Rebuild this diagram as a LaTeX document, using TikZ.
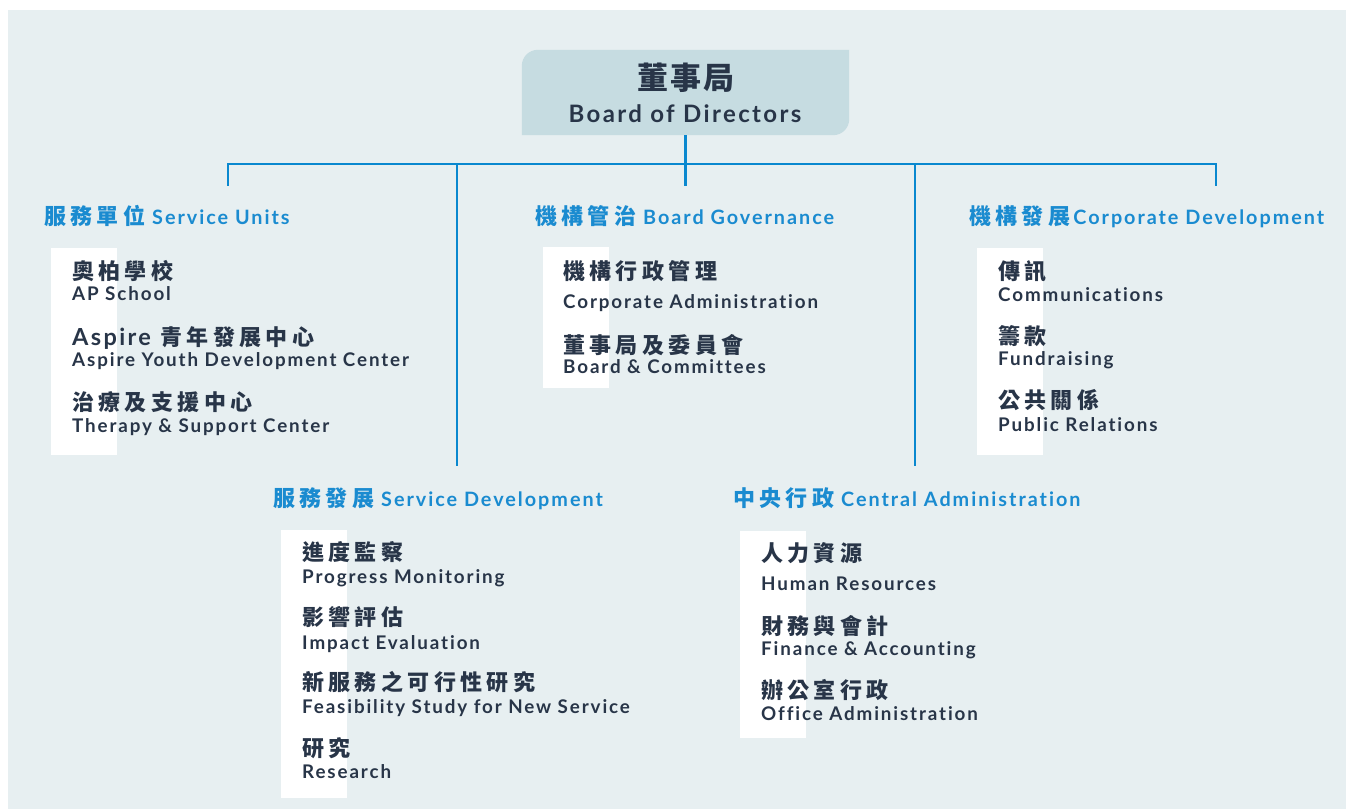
\documentclass[tikz,border=0pt]{standalone}
\usepackage{fontspec}
\setmainfont{Lato}[LetterSpace=10,Ligatures=NoCommon]
\newfontfamily\cjk{Noto Sans CJK TC}[LetterSpace=20]
\newfontfamily\cjktitle{Noto Sans CJK TC}[LetterSpace=8]
\newcommand{\hcn}[1]{{\cjk\fontsize{22}{25}\selectfont #1}}
\usetikzlibrary{positioning}
\definecolor{bgblue}{HTML}{E7EFF1}
\definecolor{boardfill}{HTML}{C6DCE1}
\definecolor{linkblue}{HTML}{0A88CF}
\definecolor{headblue}{HTML}{1A8BD0}
\definecolor{ink}{HTML}{283548}

\begin{document}
\begin{tikzpicture}[x=1pt,y=-1pt,
    link/.style={draw=linkblue,line width=2.5pt},
    strip node/.style={fill=white,inner sep=0pt,anchor=north west,minimum width=66pt},
    head node/.style={anchor=base west,inner sep=0pt,text=headblue,
      font=\fontsize{19.8}{24}\selectfont\bfseries},
    cn node/.style={anchor=base west,inner sep=0pt,text=ink,
      font=\cjk\fontsize{22}{25}\selectfont\bfseries},
    en node/.style={anchor=base west,inner sep=0pt,text=ink,
      font=\fontsize{18.8}{22}\selectfont\bfseries}]

  % page and background
  \fill[white] (0,0) rectangle (1346,809);
  \useasboundingbox (0,0) rectangle (1346,809);
  \fill[bgblue] (8,10) rectangle (1346,809);

  % board of directors
  \node[minimum width=327pt,minimum height=85pt,inner sep=0pt] (board) at (685.5,92.5) {};
  \fill[boardfill] (board.south west) [rounded corners=16pt] -- (board.north west)
    [sharp corners] -- (board.north east) [rounded corners=16pt] -- (board.south east)
    [sharp corners] -- cycle;
  \node[anchor=base,inner sep=0pt,text=ink,font=\cjktitle\fontsize{31}{34}\selectfont\bfseries]
    (board cn) at (686,89) {董事局};
  \node[anchor=base,inner sep=0pt,text=ink,font=\fontsize{24}{28}\selectfont\bfseries]
    (board en) at (685,122.5) {Board of Directors};

  % white strips
  \node[strip node,minimum height=207pt] (su strip) at (51,248) {};
  \node[strip node,minimum height=141pt] (bg strip) at (543,247) {};
  \node[strip node,minimum height=207pt] (cd strip) at (977,248) {};
  \node[strip node,minimum height=268pt] (sd strip) at (281,530) {};
  \node[strip node,minimum height=207pt] (ca strip) at (740,531) {};

  % connectors
  \coordinate (bus) at (685.5,164);
  \coordinate (su top) at (228,185.5);
  \coordinate (bg top) at (685.5,185.5);
  \coordinate (cd top) at (1216,185.5);
  \coordinate (sd end) at (457,466);
  \coordinate (ca end) at (915,466);
  \draw[link] (su top) -- (su top |- bus) -- (cd top |- bus) -- (cd top);
  \draw[link] (board.south) -- (bg top);
  \draw[link] (sd end |- bus) -- (sd end);
  \draw[link] (ca end |- bus) -- (ca end);

  % service units
  \node[head node] (su) at (44,224.5) {\hcn{服務單位} Service Units};
  \node[cn node] (su1 cn) at (72,279) {奧柏學校};
  \node[en node] (su1 en) at (72,300) {AP School};
  \node[cn node] (su2 cn) at (72,345) {{\rmfamily\fontsize{23.5}{26}\selectfont Aspire} 青年發展中心};
  \node[en node] (su2 en) at (72,366) {Aspire Youth Development Center};
  \node[cn node] (su3 cn) at (72,410) {治療及支援中心};
  \node[en node] (su3 en) at (72,432) {Therapy \& Support Center};

  % board governance
  \node[head node] (bg) at (535,224.5) {\hcn{機構管治} Board Governance};
  \node[cn node] (bg1 cn) at (563,279.5) {機構行政管理};
  \node[en node] (bg1 en) at (563,308) {Corporate Administration};
  \node[cn node] (bg2 cn) at (563,353) {董事局及委員會};
  \node[en node] (bg2 en) at (563,373) {Board \& Committees};

  % corporate development
  \node[head node] (cd) at (969,224.5) {\hcn{機構發展}\hspace{3pt}Corporate Development};
  \node[cn node] (cd1 cn) at (998,279.5) {傳訊};
  \node[en node] (cd1 en) at (998,301) {Communications};
  \node[cn node] (cd2 cn) at (998,344) {籌款};
  \node[en node] (cd2 en) at (998,365.7) {Fundraising};
  \node[cn node] (cd3 cn) at (998,408.5) {公共關係};
  \node[en node] (cd3 en) at (998,431) {Public Relations};

  % service development
  \node[head node] (sd) at (273,506) {\hcn{服務發展} Service Development};
  \node[cn node] (sd1 cn) at (302,560) {進度監察};
  \node[en node] (sd1 en) at (302,583.3) {Progress Monitoring};
  \node[cn node] (sd2 cn) at (302,625) {影響評估};
  \node[en node] (sd2 en) at (302,649) {Impact Evaluation};
  \node[cn node] (sd3 cn) at (302,690.5) {新服務之可行性研究};
  \node[en node] (sd3 en) at (302,713.3) {Feasibility Study for New Service};
  \node[cn node] (sd4 cn) at (302,756) {研究};
  \node[en node] (sd4 en) at (302,778.3) {Research};

  % central administration
  \node[head node] (ca) at (733,506) {\hcn{中央行政} Central Administration};
  \node[cn node] (ca1 cn) at (761,561) {人力資源};
  \node[en node] (ca1 en) at (761,590.7) {Human Resources};
  \node[cn node] (ca2 cn) at (761,634) {財務與會計};
  \node[en node] (ca2 en) at (761,655) {Finance \& Accounting};
  \node[cn node] (ca3 cn) at (761,698.5) {辦公室行政};
  \node[en node] (ca3 en) at (761,720.7) {Office Administration};
\end{tikzpicture}
\end{document}
